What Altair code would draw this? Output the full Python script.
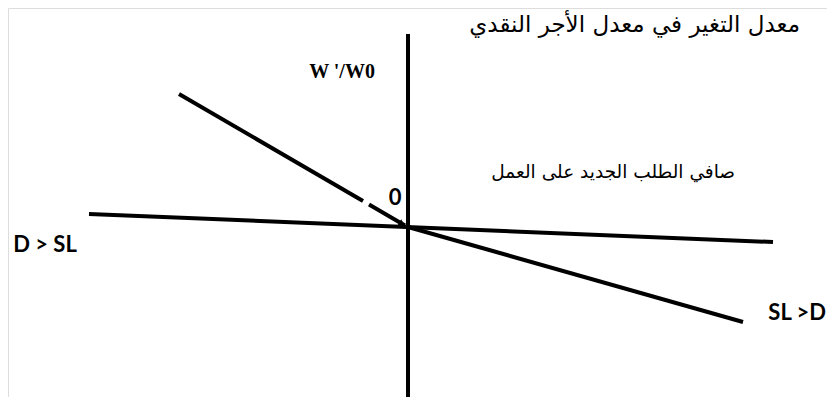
import altair as alt
import pandas as pd

# Diagram coordinates: origin at the intersection of the axes (x right, y up)
seg_id = ["vaxis", "vaxis", "horiz", "horiz", "ul1", "ul1", "ul2", "ul2", "lr", "lr"]
seg_x = [0, 0, -319, 365, -229, -45, -39, -3, 0, 335]
seg_y = [193, -176, 13, -15, 133, 26, 22.4, 1.5, 0, -95]
seg_order = [0, 1, 0, 1, 0, 1, 0, 1, 0, 1]

arrow_x = [-6]
arrow_y = [3.5]

title_text = ["معدل التغير في معدل الأجر النقدي"]
title_x = [392]
title_y = [202]

sub_text = ["صافي الطلب الجديد على العمل"]
sub_x = [327]
sub_y = [55]

latin_text = ["0", "D > SL"]
latin_x = [-13, -363]
latin_y = [29, -18]

right_text = ["SL >D"]
right_x = [418]
right_y = [-86]

w_text = ["W '/W0"]
w_x = [-66]
w_y = [155]

xs = alt.Scale(domain=[-400, 419], nice=False, zero=False)
ys = alt.Scale(domain=[-170, 219], nice=False, zero=False)

X = alt.X("x:Q", scale=xs, axis=None)
Y = alt.Y("y:Q", scale=ys, axis=None)

segs = pd.DataFrame({"id": seg_id, "x": seg_x, "y": seg_y, "o": seg_order})

lines = alt.Chart(segs).mark_line(color="black", strokeWidth=4, strokeCap="butt").encode(
    x=X, y=Y, detail="id:N", order="o:Q",
)

arrow = alt.Chart(pd.DataFrame({"x": arrow_x, "y": arrow_y})).mark_point(
    shape="triangle-right", filled=True, color="black", size=45, angle=30, opacity=1
).encode(x=X, y=Y)

title = alt.Chart(pd.DataFrame({"t": title_text, "x": title_x, "y": title_y})).mark_text(
    align="right", baseline="middle", font="DejaVu Sans", fontSize=23, color="black"
).encode(x=X, y=Y, text="t:N")

sub = alt.Chart(pd.DataFrame({"t": sub_text, "x": sub_x, "y": sub_y})).mark_text(
    align="right", baseline="middle", font="DejaVu Sans", fontSize=18.5, color="black"
).encode(x=X, y=Y, text="t:N")

latin = alt.Chart(pd.DataFrame({"t": latin_text, "x": latin_x, "y": latin_y})).mark_text(
    align="center", baseline="middle", font="Lato", fontSize=22, fontWeight="bold", color="black"
).encode(x=X, y=Y, text="t:N")

rlab = alt.Chart(pd.DataFrame({"t": right_text, "x": right_x, "y": right_y})).mark_text(
    align="right", baseline="middle", font="Lato", fontSize=22, fontWeight="bold", color="black"
).encode(x=X, y=Y, text="t:N")

wlab = alt.Chart(pd.DataFrame({"t": w_text, "x": w_x, "y": w_y})).mark_text(
    align="center", baseline="middle", font="Liberation Serif", fontSize=20, fontWeight="bold", color="black"
).encode(x=X, y=Y, text="t:N")

chart = alt.layer(lines, arrow, title, sub, latin, rlab, wlab).properties(
    width=819, height=389, padding=0, autosize=alt.AutoSizeParams(type="none")
).configure_view(strokeWidth=0).configure(background="white")

chart.save("out.html", embed_options={"renderer": "svg", "actions": False})
